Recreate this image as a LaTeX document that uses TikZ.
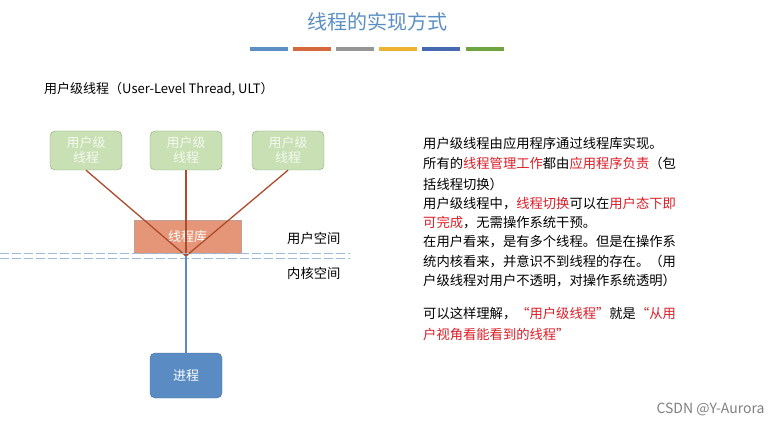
\documentclass[tikz,border=0pt]{standalone}
\usepackage{fontspec}
\setmainfont{Noto Sans CJK SC}
\definecolor{ttl}{RGB}{91,143,196}
\definecolor{cb}{RGB}{214,105,60}
\definecolor{cc}{RGB}{150,150,150}
\definecolor{cd}{RGB}{238,178,50}
\definecolor{ce}{RGB}{70,105,175}
\definecolor{cf}{RGB}{110,165,65}
\definecolor{gfill}{RGB}{200,224,180}
\definecolor{gdraw}{RGB}{140,170,120}
\definecolor{gtext}{RGB}{245,250,240}
\definecolor{libfill}{RGB}{230,150,120}
\definecolor{libdraw}{RGB}{190,160,150}
\definecolor{brn}{RGB}{175,75,45}
\definecolor{pblue}{RGB}{90,140,195}
\definecolor{rd}{RGB}{220,30,40}
\tikzset{
 ulbox/.style={draw=gdraw,fill=gfill,rounded corners=5pt,minimum width=72pt,minimum height=39pt,text=gtext,font=\fontsize{13}{15}\selectfont,align=center,inner sep=0pt},
 conn/.style={draw=brn,line width=1.3pt},
 txt/.style={anchor=west,font=\fontsize{13.3}{16}\selectfont,inner sep=0pt}
}
\begin{document}
\begin{tikzpicture}[x=1pt,y=-1pt]
\useasboundingbox[fill=white] (0,0) rectangle (781,427);
\node (title) at (377,22) {\textcolor{ttl}{\fontsize{20}{24}\selectfont 线程的实现方式}};
\foreach \x/\c in {250/ttl,293/cb,336/cc,379/cd,422/ce,466/cf}
  \fill[\c] (\x,47.5) rectangle ++(38,4);
\node[txt,font=\fontsize{13}{15}\selectfont] (head) at (44,89) {用户级线程（User-Level Thread, ULT）};
\node[ulbox] (u1) at (86,150.5) {用户级\\线程};
\node[ulbox] (u2) at (186,150.5) {用户级\\线程};
\node[ulbox] (u3) at (288,150.5) {用户级\\线程};
\node[draw=libdraw,fill=libfill,minimum width=107pt,minimum height=33pt,inner sep=0pt,text=white,font=\fontsize{13}{15}\selectfont] (lib) at (187.5,236.5) {线程库};
\coordinate (j) at (186,256);
\draw[conn] (u1.south) -- (j);
\draw[conn] (u2.south) -- (j);
\draw[conn] (u3.south) -- (j);
\draw[pblue!60,line width=1.2pt,dash pattern=on 9pt off 3pt] (0,253.5) -- (350,253.5);
\draw[pblue!60,line width=1.2pt,dash pattern=on 9pt off 3pt] (0,258.5) -- (350,258.5);
\node[draw=pblue!80!black,fill=pblue,rounded corners=5pt,minimum width=72pt,minimum height=45pt,inner sep=0pt,text=white,font=\fontsize{13}{15}\selectfont] (p) at (186,375.5) {进程};
\draw[pblue,line width=1.3pt] (j) -- (p.north);
\node[txt] (us) at (287,238) {用户空间};
\node[txt] (ks) at (287,273) {内核空间};
\node[txt] (t1) at (423,143) {用户级线程由应用程序通过线程库实现。};
\node[txt] (t2) at (423,163) {所有的\textcolor{rd}{线程管理工作}都由\textcolor{rd}{应用程序负责}（包};
\node[txt] (t3) at (423,184) {括线程切换）};
\node[txt] (t4) at (423,204) {用户级线程中，\textcolor{rd}{线程切换}可以在\textcolor{rd}{用户态下即}};
\node[txt] (t5) at (423,223) {\textcolor{rd}{可完成}，无需操作系统干预。};
\node[txt] (t6) at (423,242) {在用户看来，是有多个线程。但是在操作系};
\node[txt] (t7) at (423,262) {统内核看来，并意识不到线程的存在。（用};
\node[txt] (t8) at (423,281) {户级线程对用户不透明，对操作系统透明）};
\node[txt] (t9) at (423,314) {可以这样理解，\textcolor{rd}{“用户级线程”}就是\textcolor{rd}{“从用}};
\node[txt] (t10) at (423,334) {\textcolor{rd}{户视角看能看到的线程”}};
\node[anchor=east,text=gray,font=\fontsize{14}{16}\selectfont] (csdn) at (768,409) {CSDN @Y-Aurora};
\end{tikzpicture}
\end{document}
